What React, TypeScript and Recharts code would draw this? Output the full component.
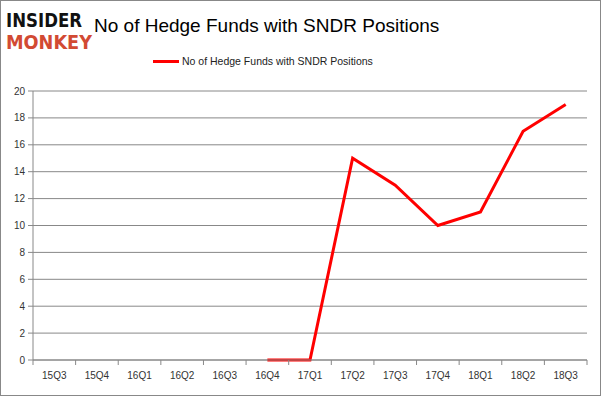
import React from 'react'
import { LineChart, Line, XAxis, YAxis, CartesianGrid } from 'recharts'

const quarters = ['15Q3', '15Q4', '16Q1', '16Q2', '16Q3', '16Q4', '17Q1', '17Q2', '17Q3', '17Q4', '18Q1', '18Q2', '18Q3']
const funds: (number | null)[] = [null, null, null, null, null, 0, 0, 15, 13, 10, 11, 17, 19]
const yTicks = [0, 2, 4, 6, 8, 10, 12, 14, 16, 18, 20]

const seriesName = 'No of Hedge Funds with SNDR Positions'
const data = quarters.map((q, i) => ({ q, v: funds[i] }))

const W = 599
const H = 394
const margin = { top: 90, right: 13, bottom: 5, left: 0 }
const yWidth = 32
const band = (W - margin.left - margin.right - yWidth) / quarters.length

const FONT = '"Liberation Sans", Arial, sans-serif'

const XTick = (props: any) => {
  const { x, y, payload, index } = props
  return (
    <g>
      <line x1={x - band / 2} x2={x - band / 2} y1={y} y2={y + 5} stroke="#888" />
      {index === quarters.length - 1 && (
        <line x1={x + band / 2} x2={x + band / 2} y1={y} y2={y + 5} stroke="#888" />
      )}
      <text x={x} y={y + 19} textAnchor="middle" fontSize={10} fontFamily={FONT} fill="#333">
        {payload.value}
      </text>
    </g>
  )
}

const App = () => {
  return (
    <div style={{ position: 'absolute', left: 0, top: 0, width: 601, height: 396, border: '1px solid #888', boxSizing: 'border-box', background: '#fff' }}>
      <svg width={110} height={60} style={{ position: 'absolute', left: 0, top: 0 }}>
        <text x={5} y={26} fontFamily='"DejaVu Sans", sans-serif' fontWeight={900} fontSize={20} textLength={76} lengthAdjust="spacingAndGlyphs" fill="#111">INSIDER</text>
        <text x={5} y={48} fontFamily='"DejaVu Sans", sans-serif' fontWeight={900} fontSize={20} textLength={86} lengthAdjust="spacingAndGlyphs" fill="#d24a33">MONKEY</text>
      </svg>
      <div style={{ position: 'absolute', left: 93, top: 14, fontFamily: FONT, fontSize: 19, color: '#000', whiteSpace: 'nowrap' }}>
        {seriesName}
      </div>
      <div style={{ position: 'absolute', left: 152, top: 54, display: 'flex', alignItems: 'center', fontFamily: FONT, fontSize: 10.5, color: '#222', whiteSpace: 'nowrap' }}>
        <span style={{ display: 'inline-block', width: 26, height: 3, background: '#ff0000', marginRight: 3 }} />
        <span>{seriesName}</span>
      </div>
      <LineChart width={W} height={H} data={data} margin={margin}>
        <CartesianGrid vertical={false} stroke="#888" />
        <XAxis dataKey="q" scale="band" height={30} stroke="#888" tickLine={false} tickSize={0} tickMargin={0} tick={<XTick />} interval={0} />
        <YAxis domain={[0, 20]} ticks={yTicks} width={yWidth} stroke="#888" tickSize={5} tickMargin={3} tick={{ fontSize: 10, fontFamily: FONT, fill: '#333' }} interval={0} />
        <Line type="linear" dataKey="v" name={seriesName} stroke="#ff0000" strokeWidth={3} dot={false} isAnimationActive={false} connectNulls={false} />
      </LineChart>
    </div>
  )
}

export default App
